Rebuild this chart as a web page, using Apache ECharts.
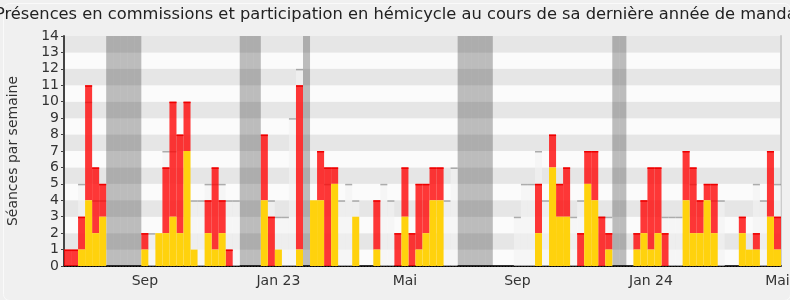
<!DOCTYPE html>
<html>
<head>
<meta charset="utf-8">
<script src="https://cdn.jsdelivr.net/npm/echarts@6/dist/echarts.min.js"></script>
<style>html,body{margin:0;padding:0;background:#f0f0f0;}#c{width:790px;height:300px;}</style>
</head>
<body>
<div id="c"></div>
<script>
// ---- data (one entry per week) ----
const hemicycle = [
  0,0,1,4,2,3,0,0,0,0,
  0,1,0,2,2,3,2,7,1,0,
  2,1,2,0,0,0,0,0,4,0,
  1,0,0,1,0,4,4,0,5,0,
  0,3,0,0,1,0,0,0,3,0,
  1,2,4,4,0,0,0,0,0,0,
  0,0,0,0,0,0,0,2,0,6,
  3,3,0,0,5,4,0,1,0,0,
  0,1,2,1,2,0,0,0,4,2,
  2,4,2,0,0,0,2,1,1,0,
  3,1
];
const commissions = [
  1,1,2,7,4,2,0,0,0,0,
  0,1,0,0,4,7,6,3,0,0,
  2,5,2,1,0,0,0,0,4,3,
  0,0,0,10,0,0,3,6,1,0,
  0,0,0,0,3,0,0,2,3,2,
  4,3,2,2,0,0,0,0,0,0,
  0,0,0,0,0,0,0,3,0,2,
  2,3,0,2,2,3,3,1,0,0,
  0,1,2,5,4,2,0,0,3,4,
  2,1,3,0,0,0,1,0,1,0,
  4,2
];
const mediane = [
  0,0,5,10,4,4,0,0,0,0,
  0,0,2,0,7,7,0,0,4,4,
  5,5,5,4,4,0,0,0,0,4,
  3,3,9,12,0,0,0,5,0,4,
  5,4,0,0,0,5,4,0,0,0,
  0,0,0,0,4,6,0,0,0,0,
  0,0,0,0,3,5,5,7,4,0,
  0,0,3,4,0,0,3,3,0,0,
  0,0,0,0,0,3,3,3,0,5,
  0,0,4,4,0,0,0,0,5,4,
  0,5
];
const vacationWeeks = [6,7,8,9,10,25,26,27,34,56,57,58,59,60,78,79];
const labelWeeks = [11, 30, 48, 64, 83, 101];
const labelTexts = ['Sep', 'Jan 23', 'Mai', 'Sep', 'Jan 24', 'Mai'];
const yTicks = [0,1,2,3,4,5,6,7,8,9,10,11,12,13,14];
const titleText = 'Présences en commissions et participation en hémicycle au cours de sa dernière année de mandat';

// ---- build ----
const nWeeks = hemicycle.length;
const categories = [];
for (let i = 0; i < nWeeks; i++) {
  const k = labelWeeks.indexOf(i);
  categories.push(k >= 0 ? labelTexts[k] : '');
}
const yMax = yTicks[yTicks.length - 1];

const vacData = vacationWeeks.map(i => [i, 0, yMax]);
const medData = mediane.map((v, i) => [i, 0, v]);
const yelData = hemicycle.map((v, i) => [i, 0, v]);
const redData = commissions.map((v, i) => [i, hemicycle[i], hemicycle[i] + v]);

function rectRenderer(fill, topStroke, topWidth) {
  return function (params, api) {
    const idx = api.value(0), lo = api.value(1), hi = api.value(2);
    if (!(hi > lo)) return null;
    const p0 = api.coord([idx, lo]);
    const p1 = api.coord([idx, hi]);
    const w = api.size([1, 0])[0];
    const x = p0[0] - w / 2;
    const children = [{
      type: 'rect',
      shape: { x: x, y: p1[1], width: w, height: p0[1] - p1[1] },
      style: { fill: fill }
    }];
    if (topStroke) {
      children.push({
        type: 'line',
        shape: { x1: x, y1: p1[1] + topWidth / 2, x2: x + w, y2: p1[1] + topWidth / 2 },
        style: { stroke: topStroke, lineWidth: topWidth }
      });
    }
    return { type: 'group', children: children };
  };
}

const FONT = 'DejaVu Sans';
const chart = echarts.init(document.getElementById('c'), null, { renderer: 'canvas' });
chart.setOption({
  backgroundColor: '#f0f0f0',
  animation: false,
  graphic: [{
    type: 'rect', left: 1, top: 1, z: -1,
    shape: { width: 787, height: 297, r: 6 },
    style: { fill: 'none', stroke: '#fafafa', lineWidth: 1 }
  }, {
    type: 'text', x: 399, y: 15, z: 10,
    style: { text: titleText, fontFamily: FONT, fontSize: 16.3, fill: '#222',
      align: 'center', verticalAlign: 'middle' }
  }],
  grid: { left: 64, right: 9, top: 36, bottom: 34, containLabel: false, outerBoundsMode: 'none' },
  xAxis: [{
    type: 'category',
    data: categories,
    boundaryGap: true,
    axisLine: { show: true, lineStyle: { color: '#333', width: 2 } },
    axisTick: { show: false },
    axisLabel: { interval: 0, fontFamily: FONT, fontSize: 14, color: '#333', margin: 8, hideOverlap: false },
    splitLine: { show: false }
  }, {
    type: 'category',
    data: categories,
    position: 'top',
    axisLine: { show: true, lineStyle: { color: '#000', width: 1, type: [1, 2] } },
    axisTick: { show: false },
    axisLabel: { show: false }
  }],
  yAxis: [{
    type: 'value',
    min: 0, max: yMax, interval: 1,
    name: 'Séances par semaine',
    nameLocation: 'middle',
    nameRotate: 90,
    nameGap: 44,
    nameTextStyle: { fontFamily: FONT, fontSize: 14, color: '#333' },
    axisLine: { show: true, lineStyle: { color: '#444', width: 2 } },
    axisTick: { show: true, length: 3, lineStyle: { color: '#444' } },
    axisLabel: { fontFamily: FONT, fontSize: 14, color: '#333', margin: 5,
      formatter: v => (yTicks.indexOf(v) >= 0 ? String(v) : '') },
    splitLine: { show: false },
    splitArea: { show: true, areaStyle: { color: ['#fbfbfb', '#e6e6e6'] } }
  }, {
    type: 'value',
    min: 0, max: yMax, interval: 1,
    position: 'right',
    axisLine: { show: true, lineStyle: { color: '#cccccc', width: 2 } },
    axisTick: { show: false },
    axisLabel: { show: false },
    splitLine: { show: false }
  }],
  series: [
    { name: 'Vacances parlementaires', type: 'custom', renderItem: rectRenderer('rgba(20,20,20,0.27)', null, 0),
      data: vacData, encode: { x: 0, y: [1, 2] } },
    { name: 'Médiane', type: 'custom', renderItem: rectRenderer('rgba(243,243,243,0.6)', 'rgba(0,0,0,0.3)', 1.5),
      data: medData, encode: { x: 0, y: [1, 2] } },
    { name: 'Présences en commissions', type: 'custom', renderItem: rectRenderer('rgba(255,0,0,0.78)', '#ee0000', 1.5),
      data: redData, encode: { x: 0, y: [1, 2] } },
    { name: 'Participation en hémicycle', type: 'custom', renderItem: rectRenderer('#ffd20d', null, 0),
      data: yelData, encode: { x: 0, y: [1, 2] } }
  ]
});
</script>
</body>
</html>
